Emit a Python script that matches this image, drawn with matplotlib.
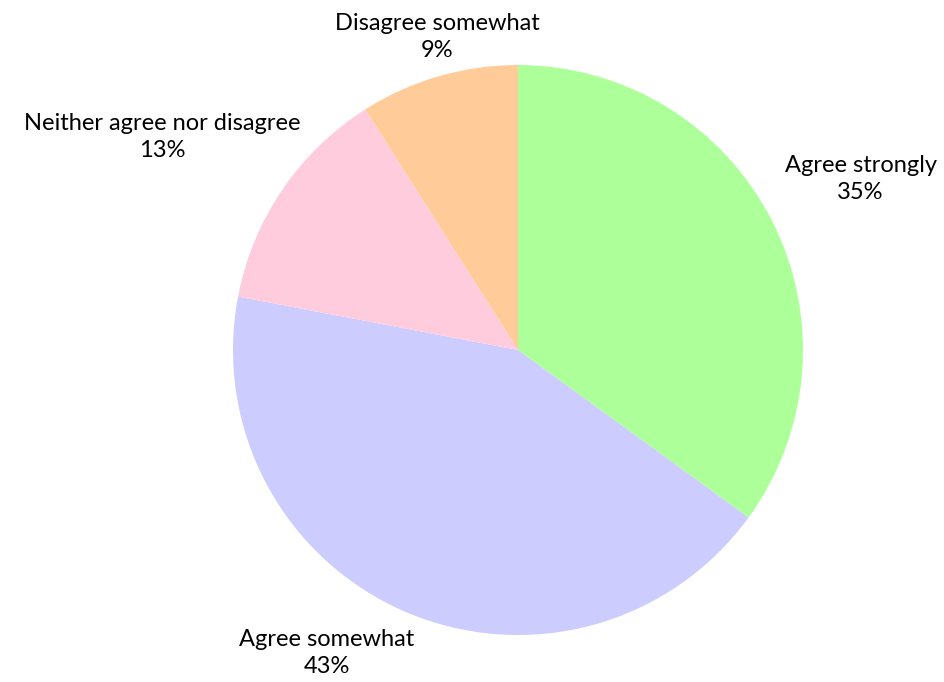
import numpy as np
import matplotlib.pyplot as plt

plt.rcParams['font.family'] = ['Lato', 'DejaVu Sans']

labels = ["Agree strongly", "Agree somewhat", "Neither agree nor disagree", "Disagree somewhat"]
values = [35, 43, 13, 9]
colors = ["#adff99", "#ccccff", "#ffccdd", "#ffcc99"]
# small nudges (pixels) so the labels sit where they read best
nudges = [(0, 11), (15, -4), (30, 21), (3, 2)]

W, H = 944, 682
cx, cy, r = 518, 350, 285

fig = plt.figure(figsize=(W / 100, H / 100), dpi=100)
ax = fig.add_axes([(cx - r) / W, (H - cy - r) / H, 2 * r / W, 2 * r / H])

wedges, _ = ax.pie(values, colors=colors, startangle=90, counterclock=False,
                   wedgeprops=dict(linewidth=0))
ax.set_xlim(-1, 1)
ax.set_ylim(-1, 1)
ax.set_aspect('equal')
ax.axis('off')

# label each wedge just outside its rim, aligned away from the center
for w, lab, v, nd in zip(wedges, labels, values, nudges):
    ang = np.deg2rad((w.theta1 + w.theta2) / 2)
    x, y = np.cos(ang), np.sin(ang)
    ha = 'left' if x > 0.3 else ('right' if x < -0.3 else 'center')
    va = 'bottom' if y > 0 else 'top'
    d = 1.05
    ax.annotate(f"{lab}\n{v}%", xy=(d * x, d * y), xytext=nd,
                textcoords='offset pixels', ha=ha, va=va, fontsize=17,
                multialignment='center', linespacing=1.35,
                annotation_clip=False)

fig.savefig("out.png", dpi=100)
